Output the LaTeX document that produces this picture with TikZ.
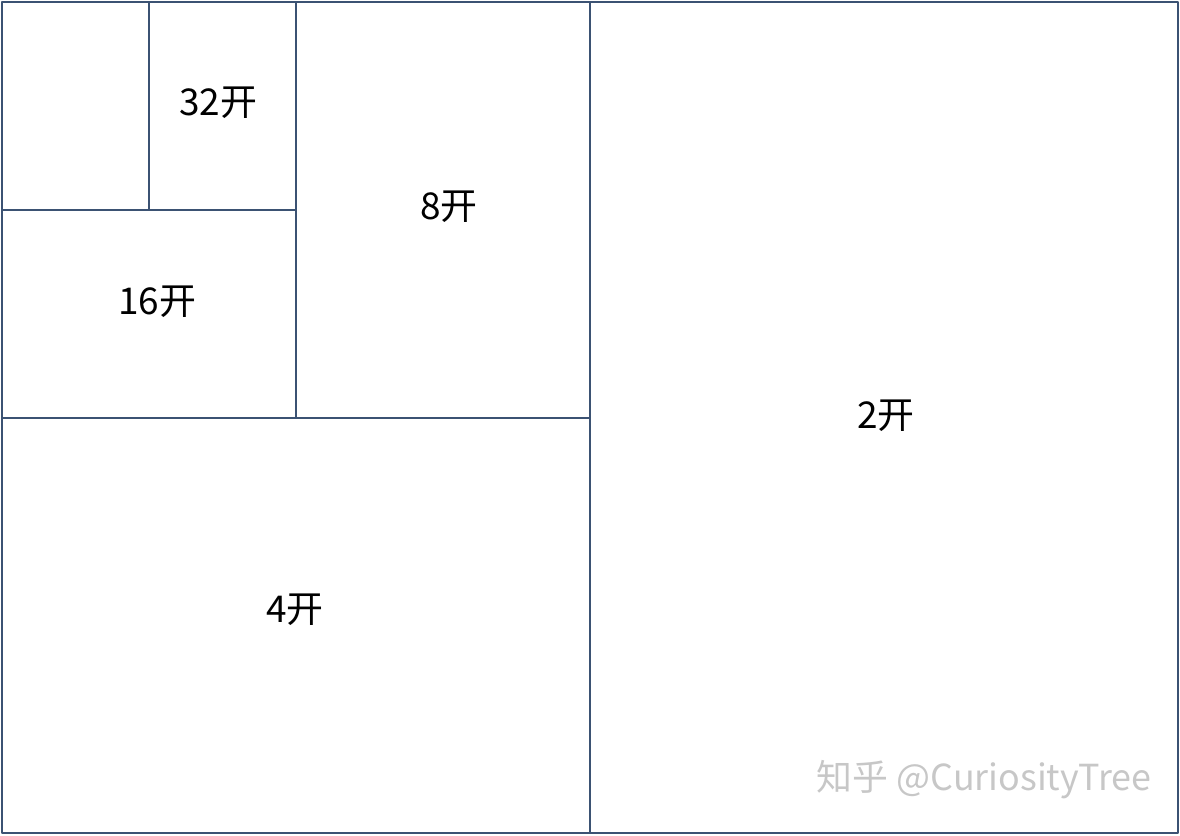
\documentclass[tikz,border=0pt]{standalone}
\usepackage{fontspec}
\newfontfamily\cjk{Noto Sans CJK SC}
\definecolor{edge}{HTML}{3B5273}
\begin{document}
\begin{tikzpicture}[x=0.01cm,y=-0.01cm,line join=round,font=\cjk\fontsize{10.5}{12}\selectfont]
				\useasboundingbox (0,0) rectangle (1180,835);
				\draw[edge,line width=0.7pt] (2,2) rectangle (1178,833);
				\draw[edge,line width=0.7pt] (590,2)--(590,833);
				\draw[edge,line width=0.7pt] (2,418)--(590,418);
				\draw[edge,line width=0.7pt] (296,2)--(296,418);
				\draw[edge,line width=0.7pt] (2,210)--(296,210);
				\draw[edge,line width=0.7pt] (149,2)--(149,210);
				\path 
				(218,103) node (k32){32开}
				(449,207) node (k8){8开}
				(157,302) node (k16){16开}
				(886,416) node (k2){2开}
				(295,610) node (k4){4开}
				(984,780) node[text=black!22,font=\cjk\fontsize{10.2}{12}\selectfont] (mark){知乎 @CuriosityTree}
				;
			\end{tikzpicture}
\end{document}
